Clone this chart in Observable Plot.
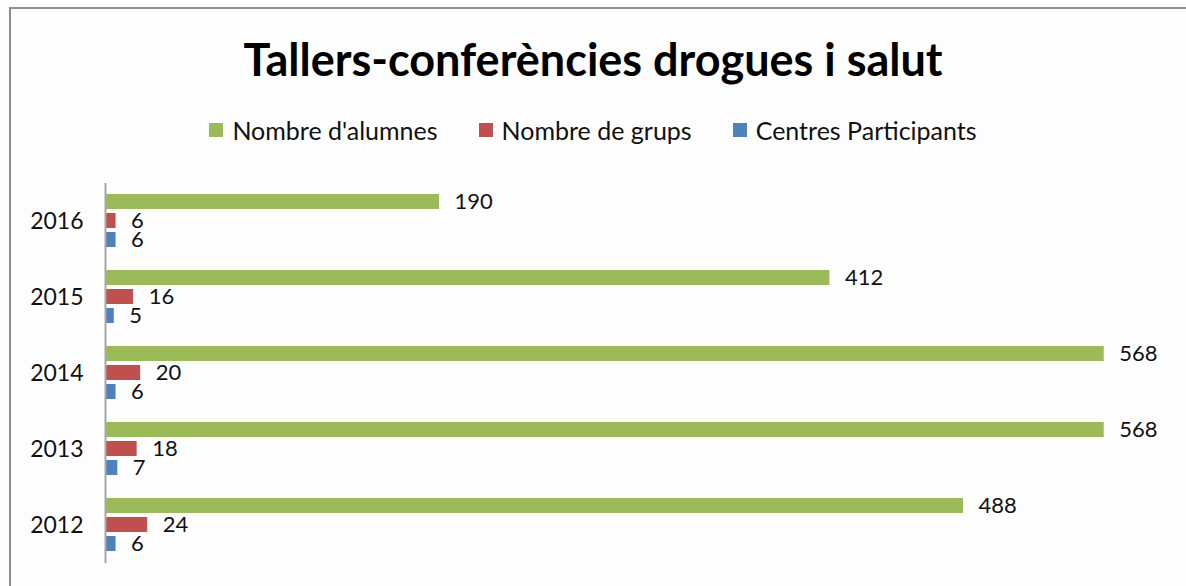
<!DOCTYPE html>
<html><head><meta charset="utf-8">
<script src="https://cdn.jsdelivr.net/npm/d3@7"></script>
<script src="https://cdn.jsdelivr.net/npm/@observablehq/plot@0.6"></script>
<style>
body{margin:0;background:#fff;}
#wrap{position:relative;width:1186px;height:586px;overflow:hidden;background:#fdfdfd;font-family:Lato,"Open Sans",sans-serif;}
#frame{position:absolute;left:9px;top:7px;width:1300px;height:700px;border:2px solid #8e8e8e;box-sizing:border-box;}
#title{position:absolute;left:0;width:1186px;top:30px;text-align:center;font-weight:bold;font-size:45px;line-height:58px;color:#000;}
#legend{position:absolute;left:0;width:1186px;top:115px;display:flex;justify-content:center;align-items:center;gap:41px;font-size:25px;color:#111;}
#legend .it{display:flex;align-items:center;gap:9px;}
#legend .sw{width:14px;height:14px;display:inline-block;}
#chart{position:absolute;left:0;top:165px;}
</style></head>
<body><div id="wrap"><div id="frame"></div>
<div id="title">Tallers-conferències drogues i salut</div>
<div id="legend"></div>
<div id="chart"></div></div>
<script>
const years = ["2016","2015","2014","2013","2012"];
const series = ["Nombre d'alumnes","Nombre de grups","Centres Participants"];
const colors = ["#9BBB59","#C0504D","#4F81BD"];
const alumnes = [190, 412, 568, 568, 488];
const grups = [6, 16, 20, 18, 24];
const centres = [6, 5, 6, 7, 6];

const valuesBySeries = [alumnes, grups, centres];
const data = [];
years.forEach((y, i) => series.forEach((s, j) => data.push({year: y, series: s, value: valuesBySeries[j][i]})));

const leg = document.getElementById("legend");
series.forEach((s, j) => {
  const it = document.createElement("div"); it.className = "it";
  const sw = document.createElement("span"); sw.className = "sw"; sw.style.background = colors[j];
  const t = document.createElement("span"); t.textContent = s;
  it.append(sw, t); leg.append(it);
});

const plot = Plot.plot({
  width: 1186, height: 421,
  marginLeft: 105, marginRight: 26, marginTop: 18, marginBottom: 23,
  style: {fontSize: "23px", fontFamily: "Lato, 'Open Sans', sans-serif", background: "transparent", color: "#111"},
  x: {domain: [0, 600], axis: null},
  y: {domain: series, axis: null, paddingInner: 0.2, paddingOuter: 0.6},
  fy: {domain: years, padding: 0, axis: "left", tickSize: 0, tickPadding: 22, label: null},
  color: {domain: series, range: colors},
  marks: [
    Plot.barX(data, {fy: "year", y: "series", x: "value", fill: "series"}),
    Plot.text(data, {fy: "year", y: "series", x: "value", text: d => String(d.value), textAnchor: "start", dx: 15, fontSize: 22, fill: "#111"}),
    Plot.ruleX([0], {stroke: "#a6a6a6", strokeWidth: 2})
  ]
});
document.getElementById("chart").append(plot);
</script></body></html>
